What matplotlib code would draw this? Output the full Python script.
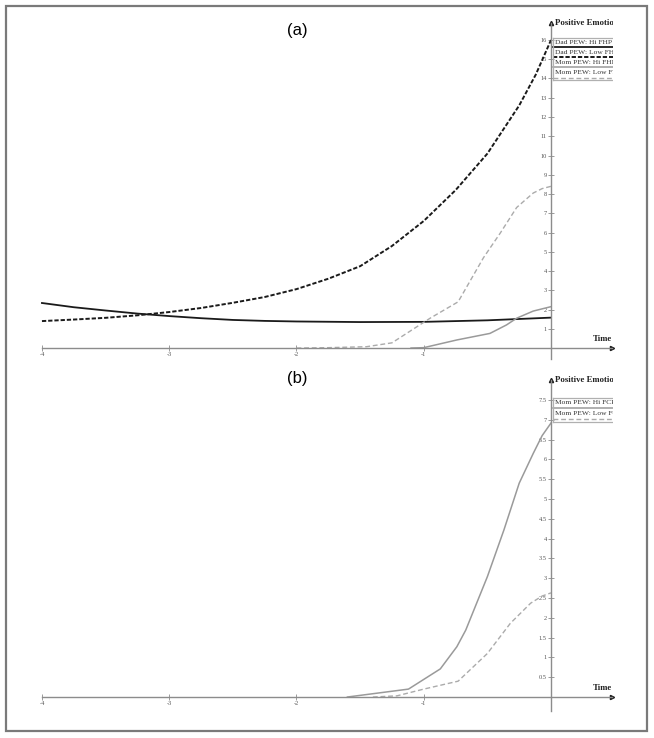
import matplotlib
matplotlib.use("Agg")
import matplotlib.pyplot as plt
from matplotlib.patches import Rectangle

# ---- data ----
# panel (a): positive emotion by father history of depression (FHP)
dadHi_t = [-4.0, -3.75, -3.5, -3.25, -3.0, -2.75, -2.5, -2.25, -2.0, -1.5, -1.0, -0.5, 0.0]
dadHi_y = [2.34, 2.12, 1.95, 1.79, 1.66, 1.55, 1.46, 1.41, 1.38, 1.35, 1.36, 1.44, 1.58]

dadLow_t = [-4.0, -3.75, -3.5, -3.25, -3.0, -2.75, -2.5, -2.25, -2.0, -1.75, -1.5,
            -1.25, -1.0, -0.75, -0.5, -0.25, -0.12, 0.0]
dadLow_y = [1.40, 1.48, 1.57, 1.70, 1.87, 2.08, 2.35, 2.65, 3.06, 3.6, 4.25,
            5.3, 6.6, 8.2, 10.1, 12.6, 14.2, 16.0]

momHi_t = [-1.1, -1.0, -0.74, -0.48, -0.35, -0.27, -0.14, 0.0]
momHi_y = [0.0, 0.02, 0.42, 0.76, 1.2, 1.55, 1.92, 2.15]

momLow_t = [-2.0, -1.75, -1.45, -1.25, -0.95, -0.73, -0.53, -0.40, -0.27, -0.14, -0.07, 0.0]
momLow_y = [0.0, 0.02, 0.07, 0.27, 1.55, 2.4, 4.7, 5.96, 7.3, 8.05, 8.28, 8.4]

# panel (b): mother positive emotion by FCP
fcpHi_t = [-1.6, -1.12, -0.87, -0.74, -0.67, -0.50, -0.37, -0.25, -0.14, -0.07, 0.0]
fcpHi_y = [0.0, 0.20, 0.71, 1.27, 1.69, 3.04, 4.22, 5.4, 6.15, 6.6, 6.92]

fcpLow_t = [-1.4, -1.21, -1.0, -0.73, -0.50, -0.32, -0.16, -0.07, 0.0]
fcpLow_y = [0.0, 0.03, 0.2, 0.40, 1.1, 1.86, 2.37, 2.55, 2.63]

ticks_a = list(range(1, 17))
ticks_b = [0.5 * i for i in range(1, 16)]
xticks = [-4, -3, -2, -1]

legend_a = ["Dad PEW: Hi FHP", "Dad PEW: Low FHP", "Mom PEW: Hi FHP", "Mom PEW: Low FHP"]
legend_b = ["Mom PEW: Hi FCP", "Mom PEW: Low FCP"]

W, H = 654, 738
SERIF = ["Liberation Serif", "DejaVu Serif"]
AXCOL = "#8c8c8c"
BLACK = "#1a1a1a"
GRAY = "#9a9a9a"
LGRAY = "#ababab"

styles_a = [dict(color=BLACK, lw=1.3, ls="-"),
            dict(color=BLACK, lw=1.4, ls=(0, (2.2, 1.0))),
            dict(color=GRAY, lw=1.1, ls="-"),
            dict(color=LGRAY, lw=1.0, ls=(0, (3.5, 2.0)))]
styles_b = [styles_a[2], styles_a[3]]

fig = plt.figure(figsize=(W / 100, H / 100), dpi=100)

# outer frame
fig.patches.append(Rectangle((6 / W, 1 - 731 / H), 641 / W, 725 / H, transform=fig.transFigure,
                             fill=False, edgecolor="#7a7a7a", lw=1.6))


def px_axes(left, top, right, bottom):
    return fig.add_axes([left / W, 1 - bottom / H, (right - left) / W, (bottom - top) / H])


def setup(ax, xlim, ylim, yticks, ylow, ytop, ylabels, time_y):
    ax.set_xlim(*xlim)
    ax.set_ylim(*ylim)
    for s in ["top", "right"]:
        ax.spines[s].set_visible(False)
    ax.spines["left"].set_position(("data", 0))
    ax.spines["bottom"].set_position(("data", 0))
    ax.spines["left"].set_bounds(ylow, ytop)
    ax.spines["bottom"].set_bounds(-4, xlim[1] - 0.005)
    for s in ["left", "bottom"]:
        ax.spines[s].set_color(AXCOL)
        ax.spines[s].set_linewidth(1.0)
    ax.set_xticks(xticks)
    ax.set_xticklabels([str(t) for t in xticks])
    ax.set_yticks(yticks)
    ax.set_yticklabels(ylabels)
    ax.tick_params(direction="inout", length=4, width=0.6, color=AXCOL,
                   labelsize=4.6, labelcolor="#555555", pad=1)
    for lab in ax.get_xticklabels() + ax.get_yticklabels():
        lab.set_family(SERIF)
    # arrow heads
    ax.plot([xlim[1] - 0.01], [0], marker=">", ms=3, color=BLACK, clip_on=False)
    ax.plot([0], [ytop], marker="^", ms=3, color=BLACK, clip_on=False)
    ax.text(0.03, ytop, "Positive Emotion", family=SERIF, fontweight="bold", fontsize=6.3,
            va="center", ha="left", clip_on=True, color="#222222")
    ax.text(xlim[1] - 0.01, time_y, "Time", family=SERIF,
            fontweight="bold", fontsize=6.3, va="bottom", ha="right", color="#222222")


def legend(ax, labels, styles, top_px, row_px, ax_top, ax_bottom):
    # legend drawn in pixel rows to the right of the y axis, clipped at axes edge
    def fy(p):
        return (ax_bottom - p) / (ax_bottom - ax_top)
    x0 = ax.transAxes.inverted().transform(ax.transData.transform((0, 0)))[0]
    xl = x0 + 2 / (613 - 16.5)
    ax.plot([xl, 1.2], [fy(top_px)] * 2, transform=ax.transAxes, color="#b0b0b0", lw=0.9)
    for i, (lab, st) in enumerate(zip(labels, styles)):
        ty = top_px + row_px * i + 4.5
        ly = top_px + row_px * (i + 1) - 1
        ax.text(xl + 0.004, fy(ty), lab, transform=ax.transAxes, family=SERIF, fontsize=5.4,
                va="center", ha="left", color="#333333", clip_on=True)
        ax.plot([xl, 1.2], [fy(ly)] * 2, transform=ax.transAxes, **st)
    ax.plot([xl, 1.2], [fy(top_px + row_px * len(labels) + 1.5)] * 2, transform=ax.transAxes,
            color="#b0b0b0", lw=0.9)
    ax.plot([xl, xl], [fy(top_px), fy(top_px + row_px * len(labels) + 1.5)],
            transform=ax.transAxes, color="#b0b0b0", lw=0.9)


# ---- panel (a) ----
xlim = (-4.2, 0.487)
a_top, a_bot = 11.1, 359.6
ax1 = px_axes(16.5, a_top, 613, a_bot)
setup(ax1, xlim, (-0.6, 17.5), ticks_a, -0.55, 16.9, [str(t) for t in ticks_a], 0.25)
ax1.plot(dadHi_t, dadHi_y, **styles_a[0])
ax1.plot(dadLow_t, dadLow_y, **styles_a[1])
ax1.plot(momHi_t, momHi_y, **styles_a[2])
ax1.plot(momLow_t, momLow_y, **styles_a[3])
legend(ax1, legend_a, styles_a, 37.5, 10.3, a_top, a_bot)
fig.text(297 / W, 1 - 30 / H, "(a)", family=["Liberation Sans", "DejaVu Sans"], fontsize=12,
         ha="center", va="center")

# ---- panel (b) ----
b_top, b_bot = 364.4, 708.9
ax2 = px_axes(16.5, b_top, 613, b_bot)
setup(ax2, xlim, (-0.3, 8.4), ticks_b, -0.35, 8.0, ["%g" % t for t in ticks_b], 0.12)
ax2.plot(fcpHi_t, fcpHi_y, **styles_b[0])
ax2.plot(fcpLow_t, fcpLow_y, **styles_b[1])
legend(ax2, legend_b, styles_b, 398, 11, b_top, b_bot)
fig.text(297 / W, 1 - 378 / H, "(b)", family=["Liberation Sans", "DejaVu Sans"], fontsize=12,
         ha="center", va="center")

fig.savefig("out.png", dpi=100)
